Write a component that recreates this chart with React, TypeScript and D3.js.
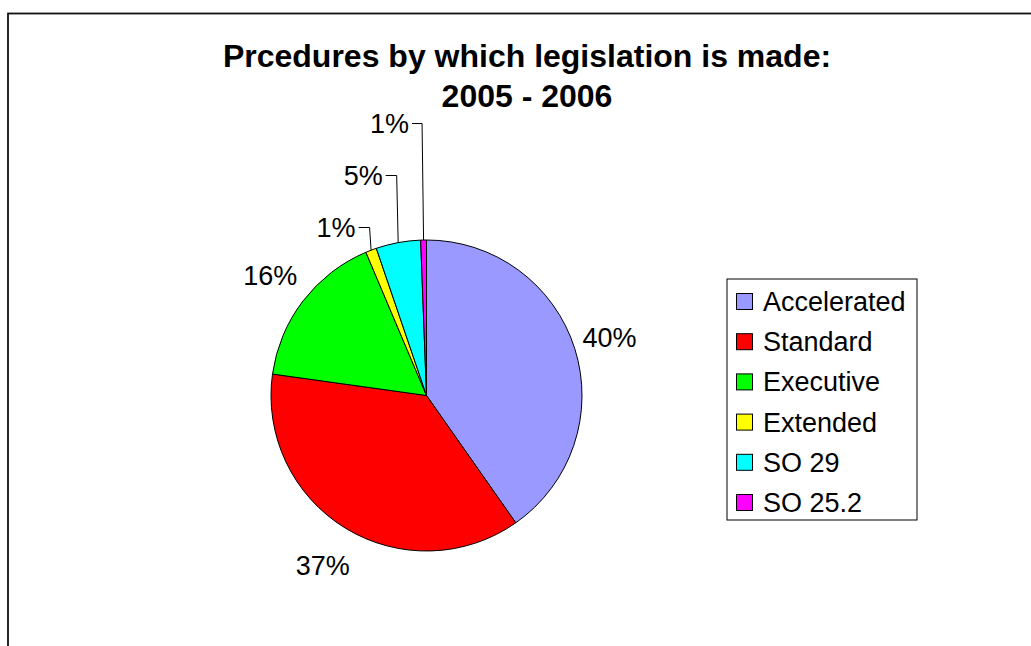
import React from "react";
import * as d3 from "d3";

const categories = ["Accelerated", "Standard", "Executive", "Extended", "SO 29", "SO 25.2"];
const values = [40.27, 36.94, 16.43, 1.14, 4.63, 0.6];
const colors = ["#9999FF", "#FF0000", "#00FF00", "#FFFF00", "#00FFFF", "#FF00FF"];
const titleLines = ["Prcedures by which legislation is made:", "2005 - 2006"];

// layout: label placement per slice (radius beyond pie, or leader label height)
const labelLayout = [
  { type: "outside", radius: 192 },
  { type: "outside", radius: 199 },
  { type: "outside", radius: 197 },
  { type: "leader", labelY: 227.5, gap: 11 },
  { type: "leader", labelY: 175.5, gap: 11 },
  { type: "leader", labelY: 123.5, gap: 10 },
];

const W = 1031;
const H = 646;
const cx = 426.5;
const cy = 395.5;
const R = 155.5;
const FONT = "'Liberation Sans', Arial, sans-serif";

export default function App() {
  const total = d3.sum(values);
  const pie = d3.pie<number>().sort(null).value((d) => d);
  const arcs = pie(values);
  const arc = d3.arc<d3.PieArcDatum<number>>().innerRadius(0).outerRadius(R);

  const legendX = 727;
  const legendY = 279;
  const legendW = 190;
  const legendH = 241;
  const rowH = 40.2;

  return (
    <svg width={W} height={H} style={{ position: "absolute", left: 0, top: 0 }} fontFamily={FONT}>
      <rect x={0} y={0} width={W} height={H} fill="#fff" />
      <rect x={8} y={13.5} width={1200} height={1000} fill="none" stroke="#111" strokeWidth={1.8} />
      {titleLines.map((t, i) => (
        <text key={i} x={527} y={67 + i * 40} textAnchor="middle" fontWeight="bold" fontSize={32} fill="#000">
          {t}
        </text>
      ))}
      <g transform={`translate(${cx},${cy})`}>
        {arcs.map((a, i) => (
          <path key={i} d={arc(a) || ""} fill={colors[i]} stroke="#000" strokeWidth={1} />
        ))}
      </g>
      {arcs.map((a, i) => {
        const mid = (a.startAngle + a.endAngle) / 2;
        const pct = Math.round((a.value / total) * 100) + "%";
        const L = labelLayout[i];
        if (L.type === "outside") {
          const lx = cx + (L.radius as number) * Math.sin(mid);
          const ly = cy - (L.radius as number) * Math.cos(mid);
          return (
            <text key={i} x={lx} y={ly + 9.5} textAnchor="middle" fontSize={27} fill="#000">
              {pct}
            </text>
          );
        }
        const ex = cx + R * Math.sin(mid);
        const ey = cy - R * Math.cos(mid);
        const topX = ex - 1.5;
        const ly = L.labelY as number;
        const textRight = topX - (L.gap as number) - 3;
        return (
          <g key={i}>
            <path
              d={`M${ex},${ey} L${topX},${ly} L${topX - (L.gap as number)},${ly}`}
              fill="none"
              stroke="#000"
              strokeWidth={1}
            />
            <text x={textRight} y={ly + 9.5} textAnchor="end" fontSize={27} fill="#000">
              {pct}
            </text>
          </g>
        );
      })}
      <rect x={legendX} y={legendY} width={legendW} height={legendH} fill="#fff" stroke="#000" strokeWidth={1} />
      {categories.map((c, i) => {
        const yc = legendY + 22.5 + i * rowH;
        return (
          <g key={c}>
            <rect x={736.5} y={yc - 8} width={16} height={16} fill={colors[i]} stroke="#000" strokeWidth={1} />
            <text x={763} y={yc + 9.5} fontSize={27} fill="#000">
              {c}
            </text>
          </g>
        );
      })}
    </svg>
  );
}
